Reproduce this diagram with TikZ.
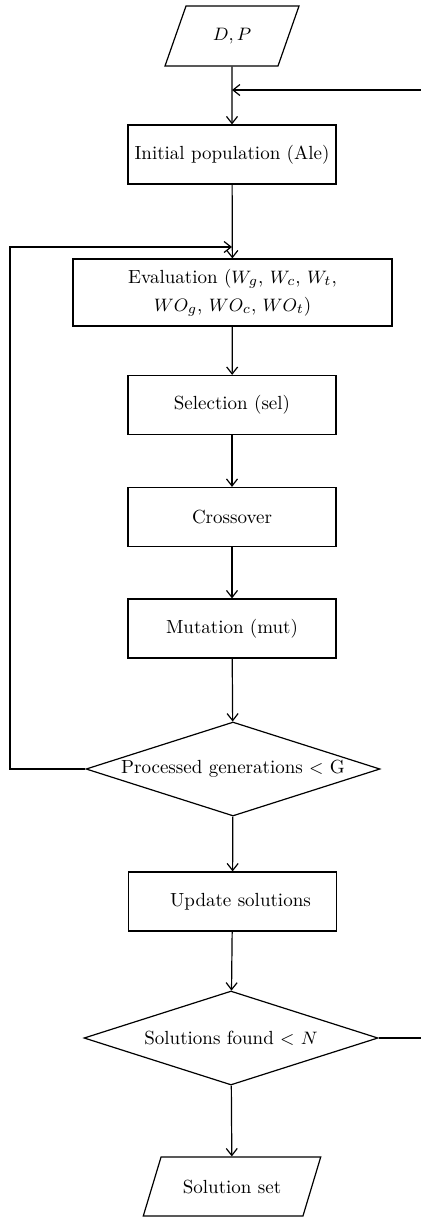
\documentclass[tikz,border=0pt]{standalone}
\usetikzlibrary{arrows.meta,shapes.geometric}
\begin{document}
\begin{tikzpicture}[x=0.5pt,y=-0.5pt,
  font=\fontsize{9.5}{14}\selectfont,
  blk/.style={draw, line width=0.6pt, align=center, minimum width=104pt, minimum height=29.5pt, inner sep=2pt},
  dec/.style={draw, diamond, line width=0.6pt, aspect=3.13, minimum width=147pt, minimum height=47pt, inner sep=0pt},
  io/.style={draw, trapezium, trapezium stretches=true, line width=0.6pt, minimum height=30pt, inner sep=2pt},
  edge/.style={line width=0.6pt},
  flow/.style={edge, -{Straight Barb[length=3.5pt,width=5.5pt]}}
]
\useasboundingbox (0,0) rectangle (421,1217);
\node[io, trapezium left angle=66, trapezium right angle=114, minimum width=67pt] (dp) at (232,36) {$D, P$};
\node[blk] (init) at (232,154.5) {Initial population (Ale)};
\node[blk, minimum width=159.5pt, minimum height=33.5pt] (eval) at (232.5,292.5) {Evaluation ($W_g$, $W_c$, $W_t$,\\ $WO_g$, $WO_c$, $WO_t$)};
\node[blk] (sel) at (232,405) {Selection (sel)};
\node[blk] (cross) at (232,517) {Crossover};
\node[blk] (mut) at (232,628.5) {Mutation (mut)};
\node[dec] (gen) at (233,769) {Processed generations $<$ G};
\node[blk] (upd) at (232.5,901.5) {\hspace{8pt}Update solutions};
\node[dec] (found) at (231,1038) {Solutions found $<$ $N$};
\node[io, trapezium left angle=58.6, trapezium right angle=121.4, minimum width=89pt, minimum height=29.5pt] (sol) at (232,1186.5) {Solution set};
\coordinate (jtop) at (232,90);
\coordinate (rtop) at (421,90);
\coordinate (jloop) at (232,247);
\coordinate (ltop) at (10,247);
\coordinate (rbot) at (421,1038);
\draw[flow] (dp) -- (init);
\draw[flow] (rtop) -- (jtop);
\draw[flow] (init) -- (eval);
\draw[flow] (gen.west) -| (ltop) -- (jloop);
\draw[flow] (eval) -- (sel);
\draw[flow] (sel) -- (cross);
\draw[flow] (cross) -- (mut);
\draw[flow] (mut) -- (gen);
\draw[flow] (gen) -- (upd);
\draw[flow] (upd) -- (found);
\draw[flow] (found) -- (sol);
\draw[edge] (found.east) -- (rbot);
\end{tikzpicture}
\end{document}
